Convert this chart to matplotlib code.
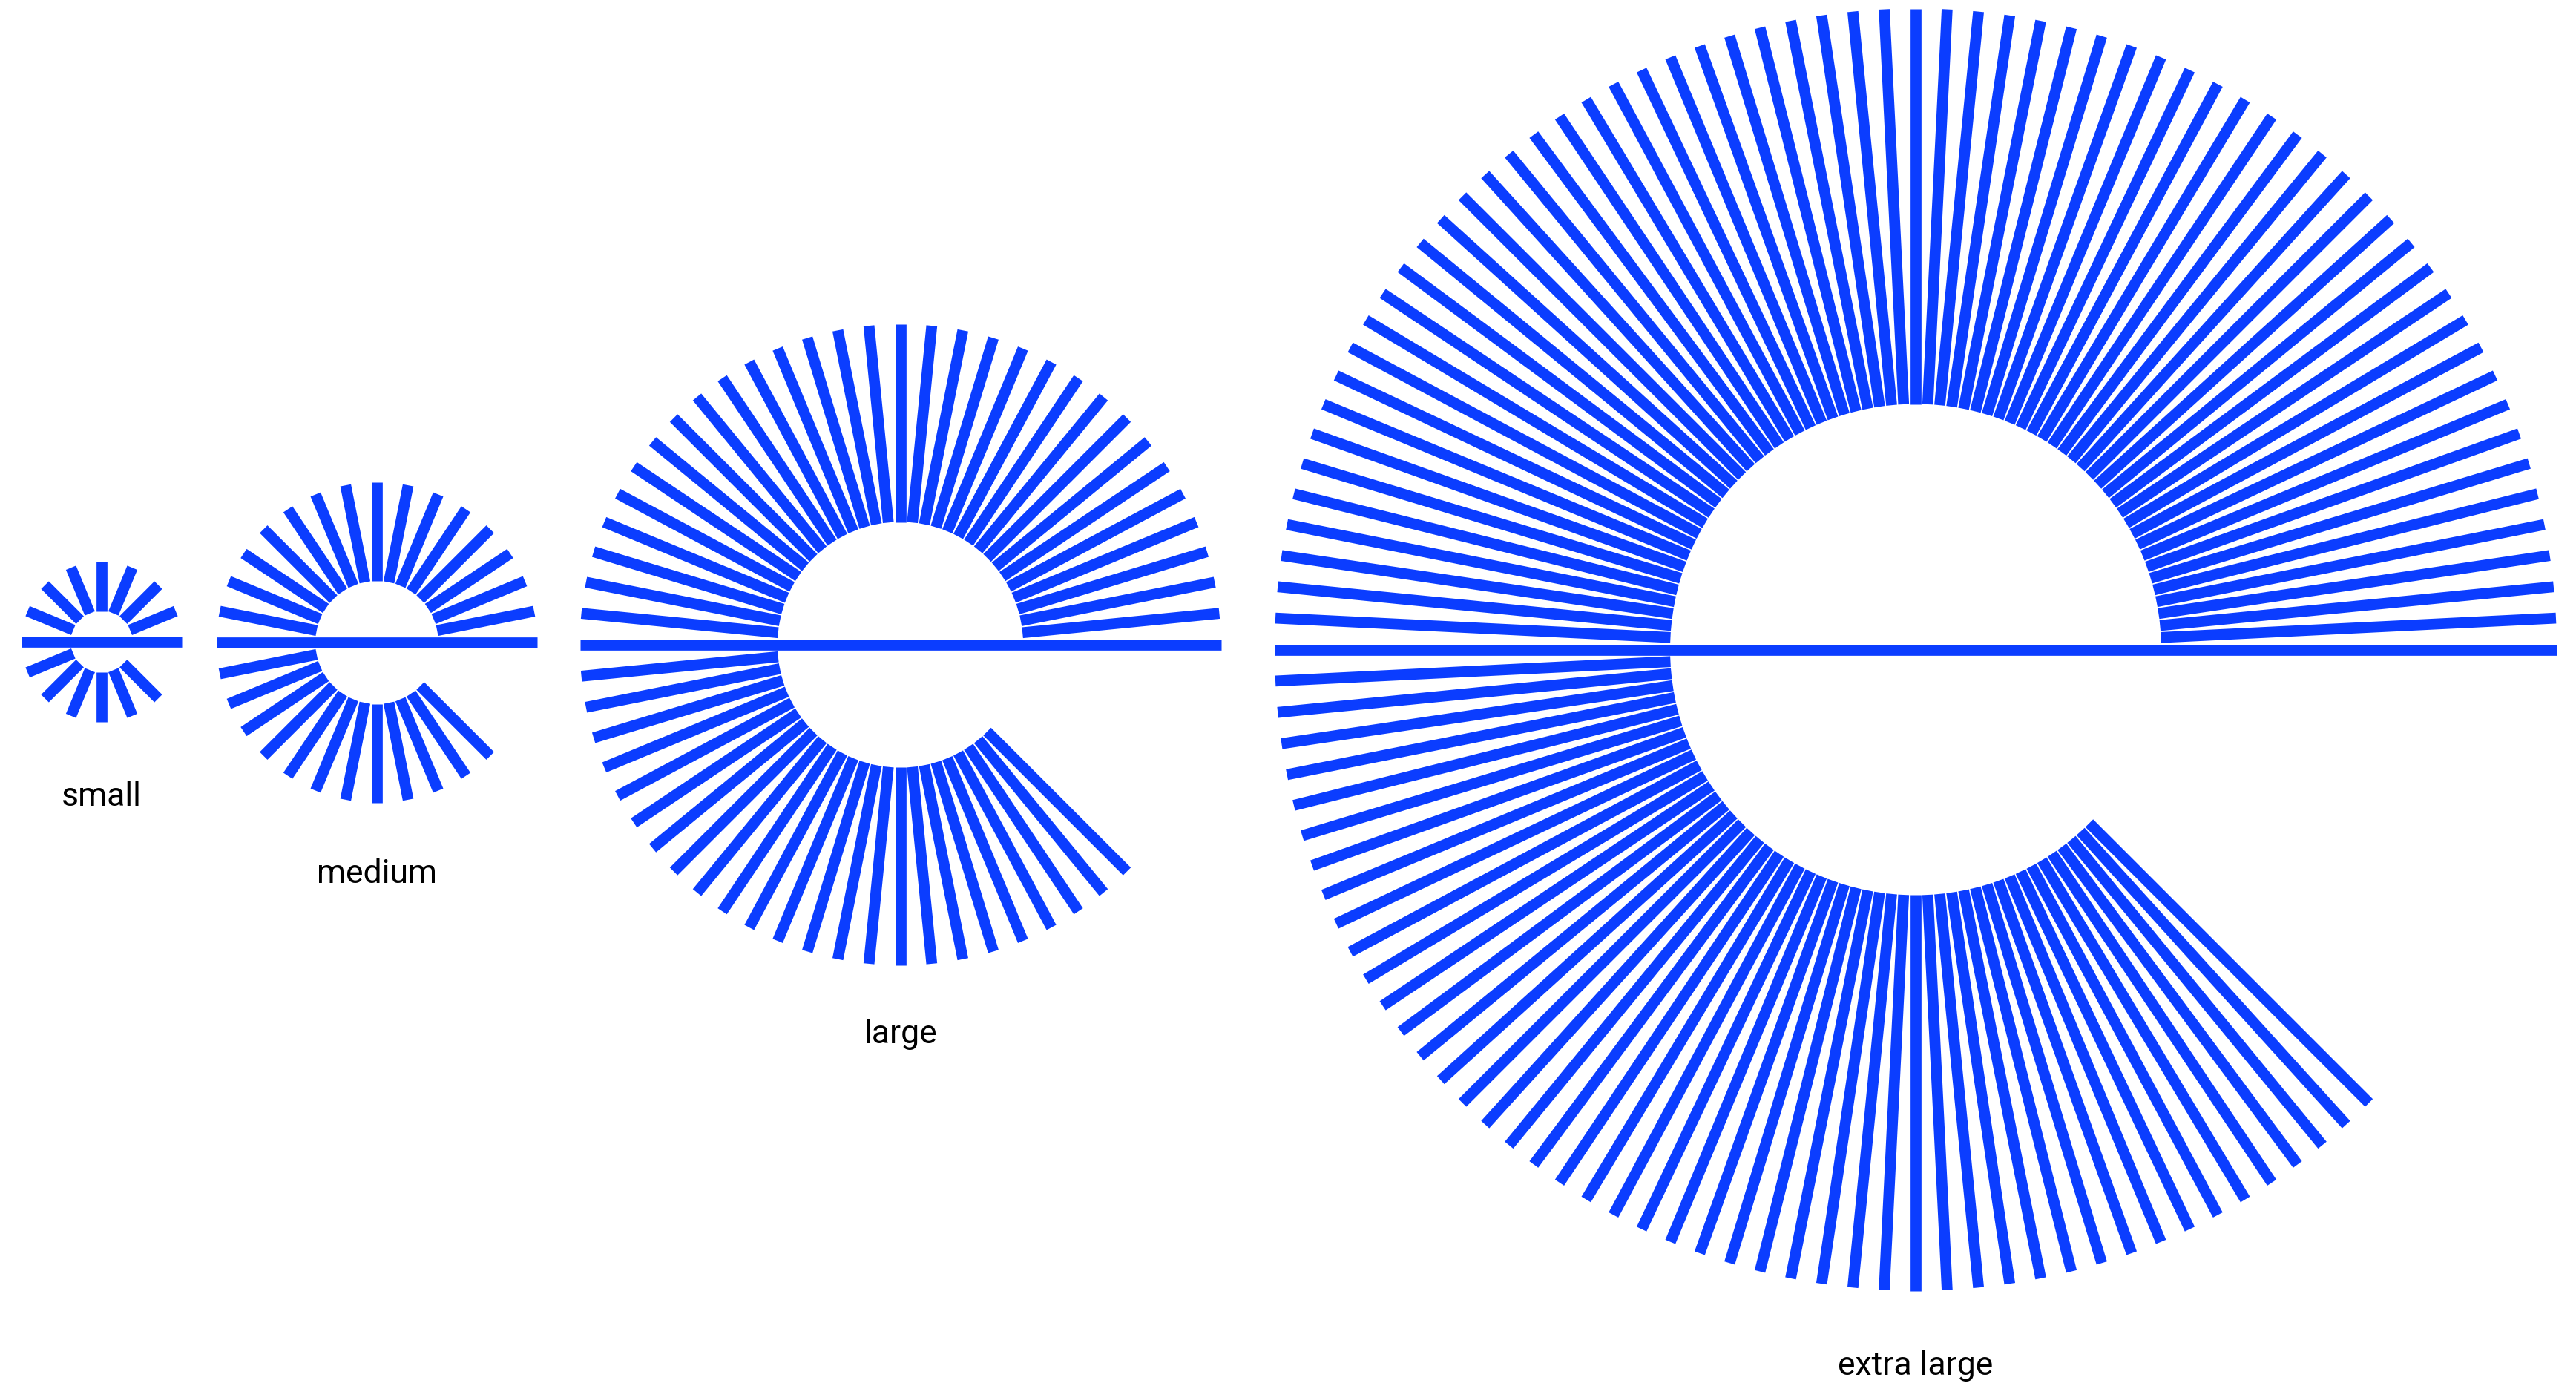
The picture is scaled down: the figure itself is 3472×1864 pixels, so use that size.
import numpy as np
import matplotlib.pyplot as plt

plt.rcParams['font.family'] = ['Roboto', 'DejaVu Sans']

# four sizes of the same "e" glyph made of radial spokes
labels = ['small', 'medium', 'large', 'extra large']
spokes = [16, 32, 64, 128]          # divisions of the full circle
outer_r = [108, 216, 432, 864]      # px
centers_x = [137, 508, 1213.5, 2582]
centers_y = [866, 867, 870, 876.5]
label_gap = [112, 107, 104, 112]    # glyph bottom -> label baseline, px

inner_frac = 0.383
blue = '#0b3dff'
lw = 14.7 * 72 / 200   # px -> pt at dpi 200

W, H = 3472, 1865
fig = plt.figure(figsize=(W / 200, H / 200), dpi=200)
ax = fig.add_axes([0, 0, 1, 1])
ax.set_xlim(0, W)
ax.set_ylim(H, 0)
ax.set_aspect('equal')
ax.axis('off')

for label, n, r, cx, cy, gap in zip(labels, spokes, outer_r, centers_x, centers_y, label_gap):
    r_in = r * inner_frac
    # crossbar: full diameter through the centre
    ax.plot([cx - r, cx + r], [cy, cy], color=blue, lw=lw, solid_capstyle='butt')
    # spokes from 0 deg counterclockwise to 315 deg
    for k in range(1, 7 * n // 8 + 1):
        if k == n // 2:
            continue
        a = 2 * np.pi * k / n
        ax.plot([cx + r_in * np.cos(a), cx + r * np.cos(a)],
                [cy - r_in * np.sin(a), cy - r * np.sin(a)],
                color=blue, lw=lw, solid_capstyle='butt')
    ax.text(cx, cy + r + gap, label, ha='center', va='baseline',
            fontsize=16, color='black')

fig.savefig('out.png', dpi=200, facecolor='white')
